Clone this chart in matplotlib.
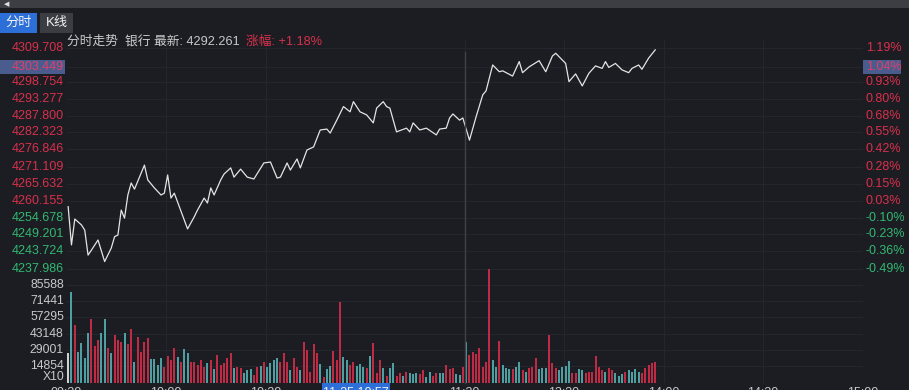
import matplotlib.pyplot as plt
import matplotlib.patches as mpatches
from matplotlib.transforms import blended_transform_factory

W, H = 909, 390

# === Data ===
# minute index from 09:30 (120 = 13:00) and index level at that minute
line_min = [0, 1, 2, 4, 5, 6, 7, 9, 11, 13, 14, 15, 16, 17, 18, 19, 20, 23, 24, 26,
            28, 29, 30, 31, 32, 36, 38, 39, 41, 42, 43, 44, 46, 47, 49, 50, 52, 54, 56, 59,
            61, 63, 64, 66, 67, 69, 70, 72, 74, 76, 78, 79, 81, 83, 85, 86, 88, 90, 92, 93,
            95, 96, 97, 99, 100, 102, 103, 104, 106, 108, 111, 112, 114, 115, 116, 118, 119,
            121, 123, 125, 126, 128, 130, 131, 134, 136, 137, 139, 142, 144, 146, 147, 150,
            151, 153, 155, 157, 159, 161, 162, 163, 165, 167, 169, 170, 172, 173, 175, 177]
line_price = [4258.2, 4245.8, 4254.2, 4252.3, 4250.6, 4242.5, 4244.1, 4247.4, 4240.4, 4244.8,
              4248.5, 4249.0, 4257.1, 4254.5, 4262.0, 4265.9, 4263.9, 4271.7, 4266.9, 4264.3,
              4262.0, 4262.6, 4268.5, 4261.0, 4262.6, 4251.0, 4254.9, 4257.1, 4261.0, 4259.4,
              4264.3, 4262.0, 4266.9, 4268.8, 4270.8, 4267.8, 4270.4, 4267.8, 4267.2, 4272.4,
              4272.7, 4267.5, 4267.8, 4272.4, 4270.1, 4273.7, 4270.8, 4276.6, 4277.6, 4283.1,
              4283.4, 4282.1, 4286.3, 4290.7, 4289.0, 4292.3, 4289.0, 4288.0, 4285.4, 4290.2,
              4292.3, 4290.7, 4290.2, 4282.5, 4282.9, 4283.7, 4282.5, 4285.4, 4283.1, 4283.7,
              4281.5, 4283.4, 4283.7, 4287.0, 4288.3, 4286.3, 4287.0,
              4279.8, 4287.4, 4294.5, 4295.8, 4304.2, 4302.0, 4302.3, 4300.6, 4305.3, 4301.7,
              4303.6, 4305.6, 4302.0, 4307.1, 4308.0, 4304.7, 4298.8, 4301.3, 4297.4, 4301.5,
              4303.9, 4303.1, 4305.3, 4303.4, 4304.7, 4302.6, 4301.7, 4303.1, 4304.2, 4302.8,
              4306.4, 4309.1]

# one bar per minute (morning 120 + afternoon 58)
volume = [26500, 79700, 50600, 27400, 35200, 21500, 43900, 55600, 32300, 37500,
          43900, 55600, 30300, 25900, 41900, 37500, 36100, 43400, 34000, 46900,
          18600, 40400, 27400, 36100, 39000, 20700, 20700, 15700, 21500, 14300,
          23600, 20100, 30300, 22400, 18600, 29400, 26500, 18600, 18600, 15700,
          20100, 14300, 17200, 20100, 11900, 24400, 15700, 17200, 21500, 25900,
          12800, 14300, 12800, 8400, 11300, 11900, 7000, 14300, 14800, 18600,
          14300, 17200, 20100, 21500, 18600, 25900, 18600, 11300, 21500, 14300,
          11300, 36100, 28800, 9900, 34000, 25900, 16300, 4900, 11900, 14800,
          28200, 20100, 71000, 22400, 20100, 15700, 18600, 14800, 16600, 14300,
          12800, 23600, 35200, 9000, 20100, 12800, 6100, 12800, 17800, 6100,
          8400, 6100, 9900, 9000, 7900, 8400, 7900, 11300, 5500, 9900,
          6100, 8400, 8400, 9000, 15700, 11900, 12800, 7900, 7000, 14300,
          36100, 24400, 27400, 25300, 30300, 14300, 18600, 99500, 20100, 14300,
          37000, 15700, 12800, 11900, 11900, 14300, 18600, 11300, 9900, 12800,
          14300, 21500, 11900, 12800, 12800, 41900, 17200, 12800, 11300, 14300,
          14800, 19500, 9000, 8400, 11900, 11300, 8400, 9900, 9900, 23600,
          14300, 11300, 9900, 12800, 11300, 8400, 6100, 7900, 9900, 11300,
          9900, 11900, 9900, 8400, 12800, 15700, 17200, 18600]
# r = up minute, g = down minute, w = first print
vol_dir = ("wgrggggrrrggrgrrrgrrgrrrrggggrrrrgrggrrrrrgrgrrrrrgrrgggrrgrggggrrrgrr"
           "grrrrrgrggrrrggrrgggrgrrrgrggrrgrgggrrggrrggrrrggr"
           "grrrrrrrggrgggrggrgrrrgggrrrggggrrggrrrrrrgrrggg" "rggggrrrrr")

price_ticks = [4309.708, 4303.449, 4298.754, 4293.277, 4287.800, 4282.323, 4276.846,
               4271.109, 4265.632, 4260.155, 4254.678, 4249.201, 4243.724, 4237.986]
pct_labels = ["1.19%", "1.04%", "0.93%", "0.80%", "0.68%", "0.55%", "0.42%",
              "0.28%", "0.15%", "0.03%", "-0.10%", "-0.23%", "-0.36%", "-0.49%"]
vol_ticks = [85588, 71441, 57295, 43148, 29001, 14854]
time_pos = [0, 30, 60, 120, 150, 180, 210, 240]
time_labels = ["09:30", "10:00", "10:30", "11:30", "13:30", "14:00", "14:30", "15:00"]

BG = "#1b1d22"
GRID = "#23262c"
RED = "#d9304c"
GREEN = "#33b872"
BAR_RED = "#bf2a45"
BAR_GREEN = "#4e9fa2"
TXT = "#c9c9cb"
NUM_FONT = ["Liberation Sans", "DejaVu Sans"]
CJK_FONT = ["Liberation Sans", "Noto Sans CJK SC", "DejaVu Sans"]


def rect(x0, y0, x1, y1):
    # pixel box (top-left origin) -> figure fraction
    return [x0 / W, 1 - y1 / H, (x1 - x0) / W, (y1 - y0) / H]


def fig_xy(x, y):
    return x / W, 1 - y / H


def box(x0, y0, x1, y1, fc):
    fig.patches.append(mpatches.Rectangle(fig_xy(x0, y1), (x1 - x0) / W, (y1 - y0) / H,
                                          transform=fig.transFigure, fc=fc, ec="none",
                                          zorder=-1))


fig = plt.figure(figsize=(W / 100, H / 100), dpi=100, facecolor=BG)

# top strip + tabs
box(0, 0, W, 8, "#3c3e44")
fig.text(*fig_xy(4, 4), "◀", color="#e0e0e0", fontsize=5, ha="left", va="center",
         family="DejaVu Sans")
for x0, x1, fc, label in [(0, 37, "#2c6fd8", "分时"), (40, 73, "#3b3d43", "K线")]:
    box(x0, 13, x1, 33, fc)
    fig.text(*fig_xy((x0 + x1) / 2, 23), label, color="#f2f2f2", fontsize=9.5,
             ha="center", va="center", family=CJK_FONT)

fig.text(*fig_xy(67, 41.5), "分时走势  银行 最新: 4292.261", color=TXT, fontsize=9.2,
         ha="left", va="center", family=CJK_FONT)
fig.text(*fig_xy(246, 41.5), "涨幅: +1.18%", color=RED, fontsize=9.2,
         ha="left", va="center", family=CJK_FONT)

# === price panel ===
slope = 0.32453  # index points per pixel
ax = fig.add_axes(rect(66.5, 40, 862.5, 270))
ax.set_facecolor(BG)
ax.set_xlim(0, 240)
ax.set_ylim(4309.708 - 222 * slope, 4309.708 + 8 * slope)
for s in ax.spines.values():
    s.set_visible(False)
ax.set_xticks([])
ax.set_yticks([])

for v in price_ticks:
    ax.axhline(v, color=GRID, lw=0.8, zorder=0)
for t in time_pos[1:]:
    ax.axvline(t, color=GRID, lw=0.8, zorder=0)

ax.plot([m + 0.5 for m in line_min], line_price, color="#e4e4e4", lw=0.9, zorder=3,
        clip_on=False)

tr = blended_transform_factory(ax.transAxes, ax.transData)
for i, (v, p) in enumerate(zip(price_ticks, pct_labels)):
    col = RED if v > 4258 else GREEN
    if i == 1:
        yp = H - ax.transData.transform((0, v))[1]
        box(0, yp - 7, 65, yp + 7, "#4a5c8e")
        box(863, yp - 7, 901, yp + 7, "#4a5c8e")
        col = "#e0406a"
    ax.text(-2.5 / 796, v, f"{v:.3f}", transform=tr, ha="right", va="center",
            color=col, fontsize=9, family=NUM_FONT, clip_on=False)
    ax.text(1 + 3.5 / 796, v, p, transform=tr, ha="left", va="center",
            color=col, fontsize=9, family=NUM_FONT, clip_on=False)

# === volume panel ===
px_vol = 873.3  # volume per pixel
vax = fig.add_axes(rect(66.5, 270, 862.5, 383))
vax.set_facecolor(BG)
vax.set_xlim(0, 240)
vax.set_ylim(0, 113 * px_vol)
for s in vax.spines.values():
    s.set_visible(False)
vax.set_xticks([])
vax.set_yticks([])
for v in vol_ticks + [0]:
    vax.axhline(v, color=GRID, lw=0.8, zorder=0)
for t in time_pos[1:]:
    vax.axvline(t, color=GRID, lw=0.8, zorder=0)

xs = [i + 0.5 for i in range(len(volume))]
cmap = {"r": BAR_RED, "g": BAR_GREEN, "w": "#d0d0d0"}
vax.bar(xs, volume, width=0.6, color=[cmap[c] for c in vol_dir], zorder=2, clip_on=False)

vtr = blended_transform_factory(vax.transAxes, vax.transData)
for v in vol_ticks:
    vax.text(-2.5 / 796, v, str(v), transform=vtr, ha="right", va="center",
             color=TXT, fontsize=8.8, family=NUM_FONT, clip_on=False)
fig.text(*fig_xy(64, 377.5), "X10", color=TXT, fontsize=8.8, ha="right", va="center",
         family=NUM_FONT)

# midday separator through both panels
fig.lines.append(plt.Line2D([ax.transData.transform((120, 0))[0] / W] * 2,
                            [7 / H, 1 - 52 / H], transform=fig.transFigure,
                            color="#3f4248", lw=1))

# time axis labels (cut by the bottom edge)
for t, lab in zip(time_pos, time_labels):
    x = 66.5 + t * 796 / 240
    fig.text(*fig_xy(x, 393), lab, color=TXT, fontsize=9, ha="center", va="center",
             family=NUM_FONT)
box(322, 381, 390, 392, "#2c6fd8")
fig.text(*fig_xy(356, 393), "11-25 10:57", color="#f2f2f2", fontsize=9, ha="center",
         va="center", family=NUM_FONT)

fig.savefig("out.png", dpi=100, facecolor=BG)
